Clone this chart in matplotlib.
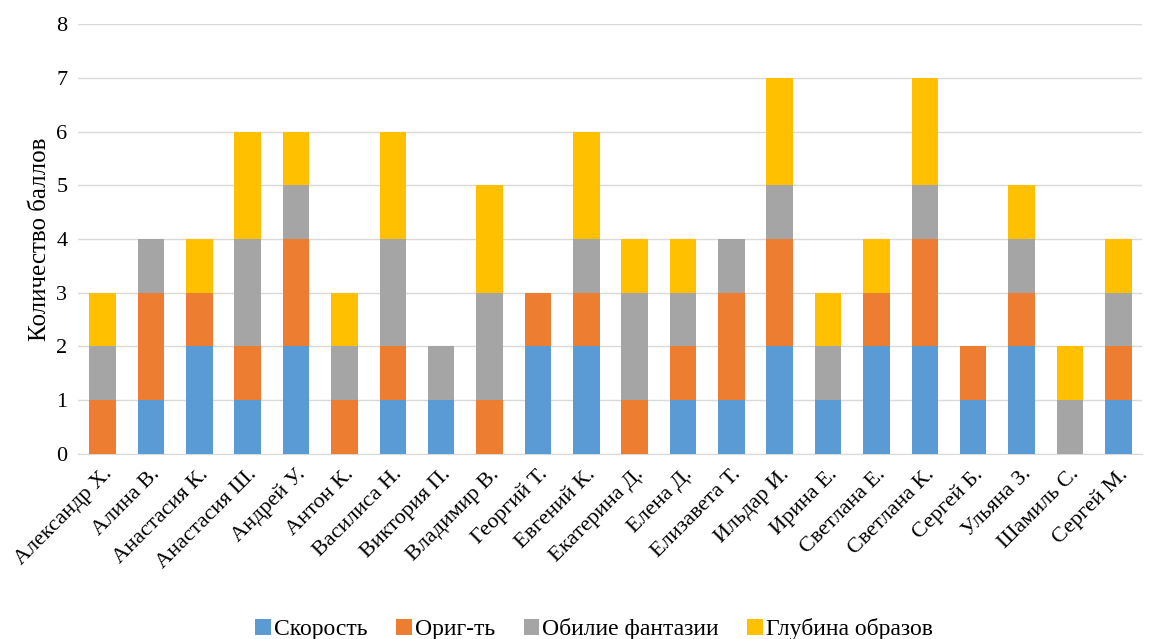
import numpy as np
import matplotlib.pyplot as plt

plt.rcParams['font.family'] = ['Liberation Serif', 'DejaVu Serif']

names = ['Александр Х.', 'Алина В.', 'Анастасия К.', 'Анастасия Ш.', 'Андрей У.',
         'Антон К.', 'Василиса Н.', 'Виктория П.', 'Владимир В.', 'Георгий Т.',
         'Евгений К.', 'Екатерина Д.', 'Елена Д.', 'Елизавета Т.', 'Ильдар И.',
         'Ирина Е.', 'Светлана Е.', 'Светлана К.', 'Сергей Б.', 'Ульяна З.',
         'Шамиль С.', 'Сергей М.']

skorost   = [0, 1, 2, 1, 2, 0, 1, 1, 0, 2, 2, 0, 1, 1, 2, 1, 2, 2, 1, 2, 0, 1]
origt     = [1, 2, 1, 1, 2, 1, 1, 0, 1, 1, 1, 1, 1, 2, 2, 0, 1, 2, 1, 1, 0, 1]
obilie    = [1, 1, 0, 2, 1, 1, 2, 1, 2, 0, 1, 2, 1, 1, 1, 1, 0, 1, 0, 1, 1, 1]
glubina   = [1, 0, 1, 2, 1, 1, 2, 0, 2, 0, 2, 1, 1, 0, 2, 1, 1, 2, 0, 1, 1, 1]

series = [('Скорость', skorost, '#5B9BD5'),
          ('Ориг-ть', origt, '#ED7D31'),
          ('Обилие фантазии', obilie, '#A5A5A5'),
          ('Глубина образов', glubina, '#FFC000')]

fig = plt.figure(figsize=(11.54, 6.39), dpi=100)
ax = fig.add_axes([0.068, 0.29, 0.922, 0.672])

x = np.arange(len(names))
bottom = np.zeros(len(names))
for label, vals, color in series:
    ax.bar(x, vals, width=0.55, bottom=bottom, color=color, label=label, zorder=3)
    bottom += np.array(vals)

ax.set_xlim(-0.5, len(names) - 0.5)
ax.set_ylim(0, 8)
ax.set_yticks(range(0, 9))
ax.grid(axis='y', color='#D9D9D9', linewidth=1, zorder=0)
for s in ['top', 'right', 'left']:
    ax.spines[s].set_visible(False)
ax.spines['bottom'].set_color('#D9D9D9')
ax.tick_params(axis='both', length=0, labelsize=16, pad=8)
ax.set_xticks(x)
ax.set_xticklabels(names, rotation=45, ha='right', rotation_mode='anchor')
ax.set_ylabel('Количество баллов', fontsize=18)

fig.legend(loc='lower center', ncols=4, frameon=False, fontsize=17,
           bbox_to_anchor=(0.515, -0.035), handlelength=0.65, handleheight=0.65,
           handletextpad=0.15, columnspacing=1.2)

fig.savefig('out.png', dpi=100)
